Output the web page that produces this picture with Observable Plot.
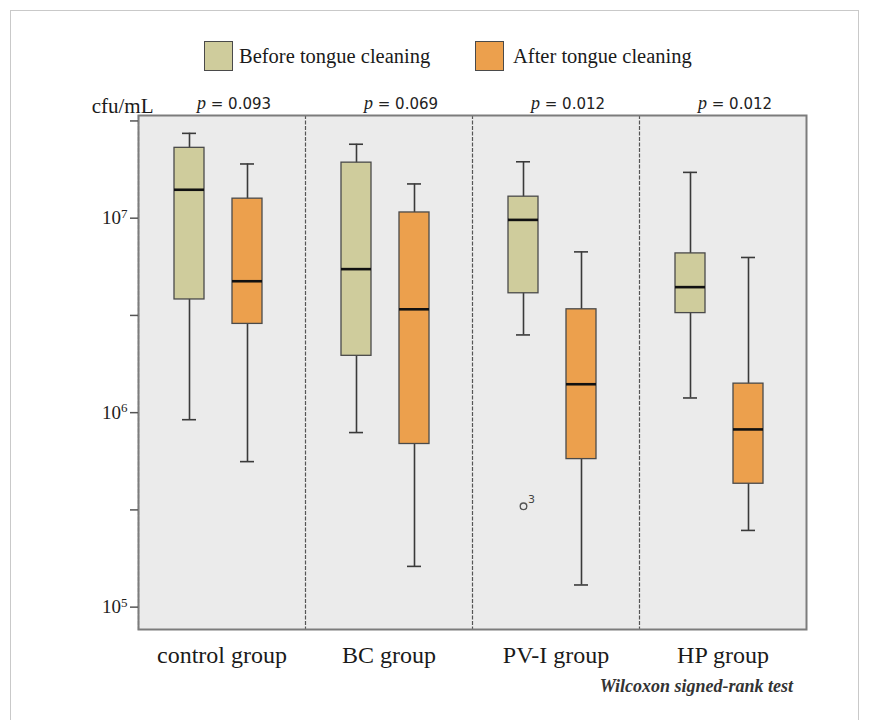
<!DOCTYPE html>
<html>
<head>
<meta charset="utf-8">
<script src="https://cdn.jsdelivr.net/npm/d3@7"></script>
<script src="https://cdn.jsdelivr.net/npm/@observablehq/plot@0.6"></script>
<style>
  html, body { margin: 0; padding: 0; background: #fff; }
  #page { position: relative; width: 870px; height: 720px; overflow: hidden; font-family: "Liberation Serif", serif; color: #222; }
  #border { position: absolute; left: 10px; top: 10px; width: 849px; height: 760px; border: 1px solid #c9c9c9; box-sizing: border-box; pointer-events: none; }
  #legend { position: relative; height: 85px; }
  .sw { position: absolute; top: 41px; width: 29px; height: 30px; box-sizing: border-box; border: 1.5px solid #4a4a4a; }
  .lt { position: absolute; top: 44px; font-size: 20.5px; line-height: 24px; color: #1a1a1a; white-space: nowrap; }
  #caption { text-align: right; padding-right: 77px; margin-top: 4px; font-size: 18px; line-height: 20px; font-style: italic; font-weight: bold; color: #333; }
  #chart svg text { font-family: "Liberation Serif", serif; }
</style>
</head>
<body>
<div id="page">
  <div id="border"></div>
  <div id="legend"></div>
  <div id="chart"></div>
  <div id="caption">Wilcoxon signed-rank test</div>
</div>
<script>
// ---- data ----
const groups = ["control group", "BC group", "PV-I group", "HP group"];
const timings = ["Before tongue cleaning", "After tongue cleaning"];
const timingColors = ["#cfcc9c", "#eca04d"];

const beforeLow    = [9.2e5, 7.9e5, 2.51e6, 1.19e6];
const beforeQ1     = [3.82e6, 1.96e6, 4.11e6, 3.25e6];
const beforeMedian = [1.40e7, 5.47e6, 9.8e6, 4.42e6];
const beforeQ3     = [2.30e7, 1.93e7, 1.29e7, 6.59e6];
const beforeHigh   = [2.73e7, 2.40e7, 1.95e7, 1.72e7];

const afterLow     = [5.6e5, 1.62e5, 1.30e5, 2.48e5];
const afterQ1      = [2.86e6, 6.9e5, 5.77e5, 4.31e5];
const afterMedian  = [4.74e6, 3.40e6, 1.40e6, 8.2e5];
const afterQ3      = [1.26e7, 1.07e7, 3.40e6, 1.41e6];
const afterHigh    = [1.90e7, 1.50e7, 6.71e6, 6.28e6];

const pValues = ["0.093", "0.069", "0.012", "0.012"];

const outlierGroups = ["PV-I group"];
const outlierTimings = ["Before tongue cleaning"];
const outlierValues = [3.3e5];
const outlierLabels = ["3"];

const yDomain = [10 ** 4.885, 10 ** 7.528];
const yTicks = [1e5, 10 ** 5.5, 1e6, 10 ** 6.5, 1e7, 10 ** 7.5];
const yLabel = "cfu/mL";

// ---- tables ----
const stats = [];
groups.forEach((g, i) => {
  stats.push({group: g, timing: timings[0], low: beforeLow[i], q1: beforeQ1[i], median: beforeMedian[i], q3: beforeQ3[i], high: beforeHigh[i]});
  stats.push({group: g, timing: timings[1], low: afterLow[i], q1: afterQ1[i], median: afterMedian[i], q3: afterQ3[i], high: afterHigh[i]});
});
const pData = groups.map((g, i) => ({group: g, p: pValues[i]}));
const outliers = outlierGroups.map((g, i) => ({group: g, timing: outlierTimings[i], value: outlierValues[i], label: outlierLabels[i]}));

// ---- legend ----
const legend = document.getElementById("legend");
const swX = [204, 475], txX = [239, 513];
timings.forEach((t, i) => {
  const s = document.createElement("div");
  s.className = "sw"; s.style.left = swX[i] + "px"; s.style.background = timingColors[i];
  legend.appendChild(s);
  const l = document.createElement("div");
  l.className = "lt"; l.style.left = txX[i] + "px"; l.textContent = t;
  legend.appendChild(l);
});

const serif = "Liberation Serif";

const chart = Plot.plot({
  width: 870,
  height: 587,
  marginLeft: 136,
  marginRight: 63,
  marginTop: 30,
  marginBottom: 43,
  style: {fontFamily: serif, background: "transparent", color: "#222", overflow: "visible"},
  fx: {domain: groups, padding: 0, label: null},
  x: {domain: timings, paddingInner: 0.49, paddingOuter: 0.67, align: 0.45, axis: null},
  y: {type: "log", domain: yDomain},
  color: {domain: timings, range: timingColors},
  marks: [
    Plot.frame({fill: "#ebebeb", stroke: null}),
    Plot.frame({anchor: "left", stroke: "#555", strokeWidth: 1.2, strokeDasharray: "3,2.5"}),
    Plot.ruleX(stats, {fx: "group", x: "timing", y1: "low", y2: "high", stroke: "#3a3a3a", strokeWidth: 1.6}),
    Plot.tickY(stats, {fx: "group", x: "timing", y: "low", stroke: "#3a3a3a", strokeWidth: 1.6, insetLeft: 8, insetRight: 8}),
    Plot.tickY(stats, {fx: "group", x: "timing", y: "high", stroke: "#3a3a3a", strokeWidth: 1.6, insetLeft: 8, insetRight: 8}),
    Plot.barY(stats, {fx: "group", x: "timing", y1: "q1", y2: "q3", fill: "timing", stroke: "#4a4a4a", strokeWidth: 1.3}),
    Plot.tickY(stats, {fx: "group", x: "timing", y: "median", stroke: "#111", strokeWidth: 2.6}),
    Plot.dot(outliers, {fx: "group", x: "timing", y: "value", r: 3.3, stroke: "#555", strokeWidth: 1.4, fill: "none"}),
    Plot.text(outliers, {fx: "group", x: "timing", y: "value", text: "label", dx: 8, dy: -7, fontSize: 11, fill: "#444"}),
    Plot.text(pData, {fx: "group", text: d => "p=" + d.p, frameAnchor: "top", dx: 12, dy: -17, fontSize: 15}),
    Plot.frame({facet: "super", stroke: "#7c7c7c", strokeWidth: 2}),
    Plot.text([yLabel], {facet: "super", text: d => d, frameAnchor: "top-left", textAnchor: "end", dx: 15, dy: -17, fontSize: 21, fill: "#1a1a1a"}),
    Plot.axisY({
      ticks: yTicks,
      tickFormat: d => {
        const e = Math.log10(d);
        return Math.abs(e - Math.round(e)) < 1e-6 ? "10^" + Math.round(e) : "";
      },
      tickSize: 8, tickPadding: 3, fontSize: 19, label: null, stroke: "#555", strokeWidth: 1.5
    }),
    Plot.axisFx({anchor: "bottom", tickSize: 0, tickPadding: 16, fontSize: 24, label: null, fill: "#1a1a1a"})
  ]
});
document.getElementById("chart").appendChild(chart);

const NS = "http://www.w3.org/2000/svg";
chart.querySelectorAll("text").forEach(t => {
  const s = t.textContent;
  if (/^10\^\d$/.test(s)) {
    // superscript exponent for y tick labels
    const [base, exp] = s.split("^");
    t.textContent = base;
    const sp = document.createElementNS(NS, "tspan");
    sp.setAttribute("dy", "-0.5em");
    sp.setAttribute("font-size", "13");
    sp.textContent = exp;
    t.appendChild(sp);
  } else if (s.startsWith("p=")) {
    // italic serif "p", sans-serif value
    const v = s.slice(2);
    t.textContent = "";
    const a = document.createElementNS(NS, "tspan");
    a.setAttribute("font-style", "italic");
    a.setAttribute("style", "font-family: 'Liberation Serif', serif; font-size: 18px;");
    a.textContent = "p";
    const b = document.createElementNS(NS, "tspan");
    b.setAttribute("style", "font-family: 'DejaVu Sans', sans-serif; font-size: 15px;");
    b.textContent = " = " + v;
    t.appendChild(a); t.appendChild(b);
  } else if (s === "3") {
    t.setAttribute("style", "font-family: 'DejaVu Sans', sans-serif;");
  }
});
</script>
</body>
</html>
